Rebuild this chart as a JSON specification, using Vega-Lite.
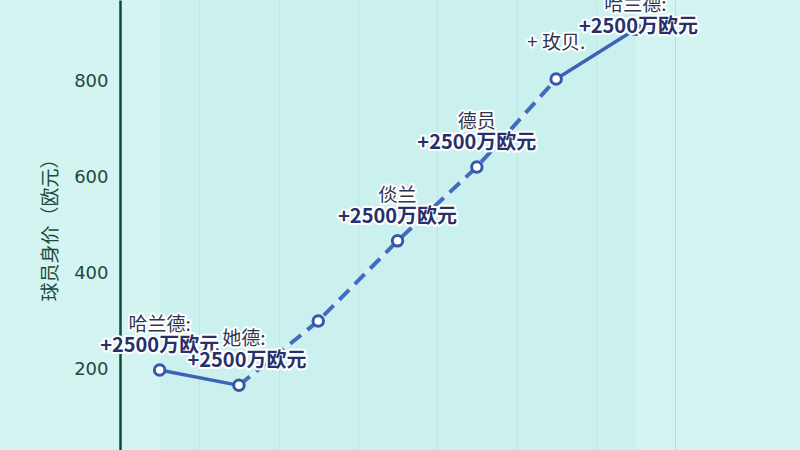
{
  "$schema": "https://vega.github.io/schema/vega-lite/v6.json",
  "autosize": "none",
  "padding": {"left": 120, "top": 0, "right": 0, "bottom": 0},
  "width": 680,
  "height": 450,
  "background": "#d3f4f1",
  "config": {"view": {"stroke": null}},
  "data": {
    "values": [
      {"idx": 1, "value": 200, "name": "哈兰德:", "amount": "+2500万欧元"},
      {"idx": 2, "value": 168, "name": "她德:", "amount": "+2500万欧元"},
      {"idx": 3, "value": 302, "name": "", "amount": ""},
      {"idx": 4, "value": 469, "name": "倓兰", "amount": "+2500万欧元"},
      {"idx": 5, "value": 623, "name": "德员", "amount": "+2500万欧元"},
      {"idx": 6, "value": 806, "name": "+ 玫贝.", "amount": ""},
      {"idx": 7, "value": 910, "name": "哈兰德:", "amount": "+2500万欧元"}
    ]
  },
  "encoding": {
    "x": {
      "field": "idx",
      "type": "quantitative",
      "scale": {"domain": [0.5, 9.075], "nice": false, "zero": false},
      "axis": {
        "values": [1.5, 2.5, 3.5, 4.5, 5.5, 6.5, 7.5],
        "grid": true,
        "gridColor": "#c2d8dc",
        "gridWidth": 1,
        "labels": false,
        "ticks": false,
        "domain": false,
        "title": null
      }
    },
    "y": {
      "field": "value",
      "type": "quantitative",
      "scale": {"domain": [33.3, 970.8], "nice": false, "zero": false},
      "axis": {
        "values": [200, 400, 600, 800],
        "grid": false,
        "ticks": false,
        "labelPadding": 12,
        "labelFont": "DejaVu Sans",
        "labelFontSize": 18,
        "labelColor": "#1d4a3c",
        "domainColor": "#0f4a3a",
        "domainWidth": 2.5,
        "title": "球员身价（欧元）",
        "titleFont": "Noto Sans CJK SC",
        "titleFontSize": 19,
        "titleFontWeight": "normal",
        "titleColor": "#1d4a3c",
        "titlePadding": 13
      }
    }
  },
  "layer": [
    {
      "mark": {"type": "rect", "color": "#c4eeee", "opacity": 0.5},
      "encoding": {
        "x": {"aggregate": "min", "field": "idx", "type": "quantitative"},
        "x2": {"aggregate": "max", "field": "idx"},
        "y": null
      }
    },
    {
      "transform": [{"filter": "datum.idx <= 2"}],
      "mark": {"type": "line", "color": "#3f63b4", "strokeWidth": 3.5}
    },
    {
      "transform": [{"filter": "datum.idx >= 2 && datum.idx <= 6"}],
      "mark": {"type": "line", "color": "#dcf0f8", "strokeWidth": 3}
    },
    {
      "transform": [{"filter": "datum.idx >= 2 && datum.idx <= 6"}],
      "mark": {"type": "line", "color": "#456cbc", "strokeWidth": 4, "strokeDash": [14, 8]}
    },
    {
      "transform": [{"filter": "datum.idx >= 6"}],
      "mark": {"type": "line", "color": "#3f63b4", "strokeWidth": 3.5}
    },
    {
      "mark": {"type": "point", "shape": "circle", "filled": true, "fill": "white", "stroke": "#3658a8", "strokeWidth": 3, "size": 110, "opacity": 1}
    },
    {
      "transform": [{"filter": "indexof([1, 4, 5], datum.idx) >= 0"}],
      "encoding": {"text": {"field": "name"}},
      "layer": [
        {"mark": {"type": "text", "dy": -45, "font": "Noto Sans CJK SC", "fontSize": 19, "stroke": "white", "strokeWidth": 4, "strokeJoin": "round", "fill": "white"}},
        {"mark": {"type": "text", "dy": -45, "font": "Noto Sans CJK SC", "fontSize": 19, "fill": "#2e3553"}}
      ]
    },
    {
      "transform": [{"filter": "indexof([1, 4, 5], datum.idx) >= 0"}],
      "encoding": {"text": {"field": "amount"}},
      "layer": [
        {"mark": {"type": "text", "dy": -24, "font": "Noto Sans CJK SC", "fontSize": 20, "fontWeight": "bold", "stroke": "white", "strokeWidth": 4, "strokeJoin": "round", "fill": "white"}},
        {"mark": {"type": "text", "dy": -24, "font": "Noto Sans CJK SC", "fontSize": 20, "fontWeight": "bold", "fill": "#27306a"}}
      ]
    },
    {
      "transform": [{"filter": "datum.idx == 2"}],
      "encoding": {"text": {"field": "name"}},
      "layer": [
        {"mark": {"type": "text", "dy": -46, "dx": 5, "font": "Noto Sans CJK SC", "fontSize": 19, "stroke": "white", "strokeWidth": 4, "strokeJoin": "round", "fill": "white"}},
        {"mark": {"type": "text", "dy": -46, "dx": 5, "font": "Noto Sans CJK SC", "fontSize": 19, "fill": "#2e3553"}}
      ]
    },
    {
      "transform": [{"filter": "datum.idx == 2"}],
      "encoding": {"text": {"field": "amount"}},
      "layer": [
        {"mark": {"type": "text", "dy": -24, "dx": 8, "font": "Noto Sans CJK SC", "fontSize": 20, "fontWeight": "bold", "stroke": "white", "strokeWidth": 4, "strokeJoin": "round", "fill": "white"}},
        {"mark": {"type": "text", "dy": -24, "dx": 8, "font": "Noto Sans CJK SC", "fontSize": 20, "fontWeight": "bold", "fill": "#27306a"}}
      ]
    },
    {
      "transform": [{"filter": "datum.idx == 6"}],
      "encoding": {"text": {"field": "name"}},
      "layer": [
        {"mark": {"type": "text", "dy": -36, "font": "Noto Sans CJK SC", "fontSize": 19, "stroke": "white", "strokeWidth": 4, "strokeJoin": "round", "fill": "white"}},
        {"mark": {"type": "text", "dy": -36, "font": "Noto Sans CJK SC", "fontSize": 19, "fill": "#2e3553"}}
      ]
    },
    {
      "transform": [{"filter": "datum.idx == 7"}],
      "encoding": {"text": {"field": "name"}},
      "layer": [
        {"mark": {"type": "text", "dy": -24, "font": "Noto Sans CJK SC", "fontSize": 19, "stroke": "white", "strokeWidth": 4, "strokeJoin": "round", "fill": "white"}},
        {"mark": {"type": "text", "dy": -24, "font": "Noto Sans CJK SC", "fontSize": 19, "fill": "#2e3553"}}
      ]
    },
    {
      "transform": [{"filter": "datum.idx == 7"}],
      "encoding": {"text": {"field": "amount"}},
      "layer": [
        {"mark": {"type": "text", "dy": -2, "dx": 3, "font": "Noto Sans CJK SC", "fontSize": 20, "fontWeight": "bold", "stroke": "white", "strokeWidth": 4, "strokeJoin": "round", "fill": "white"}},
        {"mark": {"type": "text", "dy": -2, "dx": 3, "font": "Noto Sans CJK SC", "fontSize": 20, "fontWeight": "bold", "fill": "#27306a"}}
      ]
    }
  ]
}
